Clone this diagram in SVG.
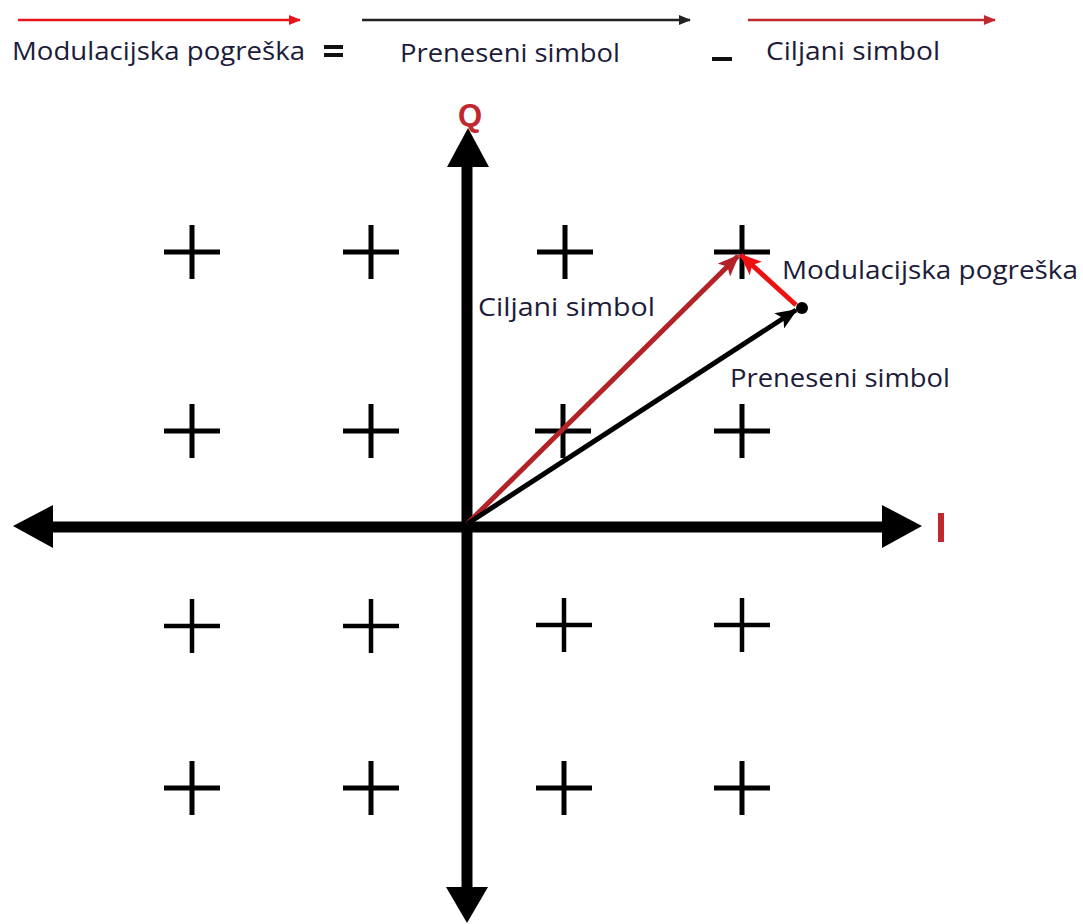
<svg xmlns="http://www.w3.org/2000/svg" width="1083" height="924" viewBox="0 0 1083 924">
  <style>
    .txt { font-family: "Open Sans", "Noto Sans", "DejaVu Sans", sans-serif; font-size: 25px; fill: #1c1c3a; }
    .axislbl { font-family: "Liberation Sans", Arial, sans-serif; font-weight: bold; fill: #c0282d; }
    .cross { stroke: #000; stroke-width: 5; fill: none; }
    .axis { stroke: #000; stroke-width: 11; fill: none; }
  </style>
  <defs>
    <marker id="hRed" viewBox="0 0 12 10" refX="11" refY="5" markerWidth="12" markerHeight="10" markerUnits="userSpaceOnUse" orient="auto">
      <path d="M0,0 L12,5 L0,10 Z" fill="#e8141b"/>
    </marker>
    <marker id="hBlack" viewBox="0 0 12 10" refX="11" refY="5" markerWidth="12" markerHeight="10" markerUnits="userSpaceOnUse" orient="auto">
      <path d="M0,0 L12,5 L0,10 Z" fill="#222"/>
    </marker>
    <marker id="hDark" viewBox="0 0 12 10" refX="11" refY="5" markerWidth="12" markerHeight="10" markerUnits="userSpaceOnUse" orient="auto">
      <path d="M0,0 L12,5 L0,10 Z" fill="#c0282d"/>
    </marker>
    <marker id="vRed" viewBox="0 0 22 18" refX="20" refY="9" markerWidth="22" markerHeight="18" markerUnits="userSpaceOnUse" orient="auto">
      <path d="M0,0 L22,9 L0,18 L5,9 Z" fill="#b22226"/>
    </marker>
    <marker id="vBlack" viewBox="0 0 22 18" refX="20" refY="9" markerWidth="22" markerHeight="18" markerUnits="userSpaceOnUse" orient="auto">
      <path d="M0,0 L22,9 L0,18 L5,9 Z" fill="#000"/>
    </marker>
    <marker id="vErr" viewBox="0 0 22 18" refX="20" refY="9" markerWidth="22" markerHeight="18" markerUnits="userSpaceOnUse" orient="auto">
      <path d="M0,0 L22,9 L0,18 L5,9 Z" fill="#ee1111"/>
    </marker>
  </defs>

  <!-- Legend equation -->
  <g id="legend">
    <line x1="18" y1="20" x2="300" y2="20" stroke="#e8141b" stroke-width="2.5" marker-end="url(#hRed)"/>
    <line x1="362" y1="20" x2="690" y2="20" stroke="#222" stroke-width="2.5" marker-end="url(#hBlack)"/>
    <line x1="748" y1="20" x2="995" y2="20" stroke="#c0282d" stroke-width="2.5" marker-end="url(#hDark)"/>
    <text class="txt" x="12" y="60" textLength="293" lengthAdjust="spacingAndGlyphs">Modulacijska pogreška</text>
    <rect x="324" y="45" width="19" height="4" fill="#111"/>
    <rect x="324" y="53" width="19" height="4" fill="#111"/>
    <text class="txt" x="400" y="62" textLength="220" lengthAdjust="spacingAndGlyphs">Preneseni simbol</text>
    <rect x="712" y="57" width="20" height="4" fill="#111"/>
    <text class="txt" x="766" y="60" textLength="174" lengthAdjust="spacingAndGlyphs">Ciljani simbol</text>
  </g>

  <!-- Constellation points -->
  <g id="constellation">
    <path class="cross" d="M164,252 h56 M192,225 v54 M343,252 h56 M371,225 v54 M537,252 h56 M565,225 v54 M714,252 h56 M742,225 v54"/>
    <path class="cross" d="M164,431 h56 M192,404 v54 M343,431 h56 M371,404 v54 M535,431 h56 M563,404 v54 M714,431 h56 M742,404 v54"/>
    <path class="cross" style="stroke-width:4.5" d="M164,626 h56 M192,599 v54 M343,626 h56 M371,599 v54 M536,625 h56 M564,598 v54 M714,625 h56 M742,598 v54"/>
    <path class="cross" d="M164,788 h56 M192,761 v54 M343,788 h56 M371,761 v54 M536,788 h56 M564,761 v54 M714,788 h56 M742,761 v54"/>
  </g>

  <!-- Axes -->
  <g id="axes">
    <line class="axis" x1="50" y1="527" x2="885" y2="527"/>
    <line class="axis" x1="467" y1="165" x2="467" y2="890"/>
    <path d="M13,526 L53,505 L53,548 Z" fill="#000"/>
    <path d="M922,526 L882,505 L882,548 Z" fill="#000"/>
    <path d="M468,128 L447,167 L489,167 Z" fill="#000"/>
    <path d="M467,923 L446,887 L488,887 Z" fill="#000"/>
    <text class="axislbl" x="470" y="126" font-size="31" text-anchor="middle">Q</text>
    <rect x="938" y="513" width="6" height="29" fill="#c0282d"/>
  </g>

  <!-- Vectors -->
  <g id="connectors">
    <line x1="467" y1="524" x2="738" y2="256" stroke="#b22226" stroke-width="5" marker-end="url(#vRed)"/>
    <line x1="467" y1="524" x2="796" y2="310" stroke="#000" stroke-width="5" marker-end="url(#vBlack)"/>
    <line x1="796" y1="305" x2="741" y2="255" stroke="#ee1111" stroke-width="5" marker-end="url(#vErr)"/>
    <circle cx="802" cy="308" r="6" fill="#000"/>
  </g>

  <!-- Labels -->
  <g id="labels">
    <text class="txt" x="782" y="279" textLength="296" lengthAdjust="spacingAndGlyphs">Modulacijska pogreška</text>
    <text class="txt" x="478" y="316" textLength="177" lengthAdjust="spacingAndGlyphs">Ciljani simbol</text>
    <text class="txt" x="730" y="387" textLength="220" lengthAdjust="spacingAndGlyphs">Preneseni simbol</text>
  </g>
</svg>
